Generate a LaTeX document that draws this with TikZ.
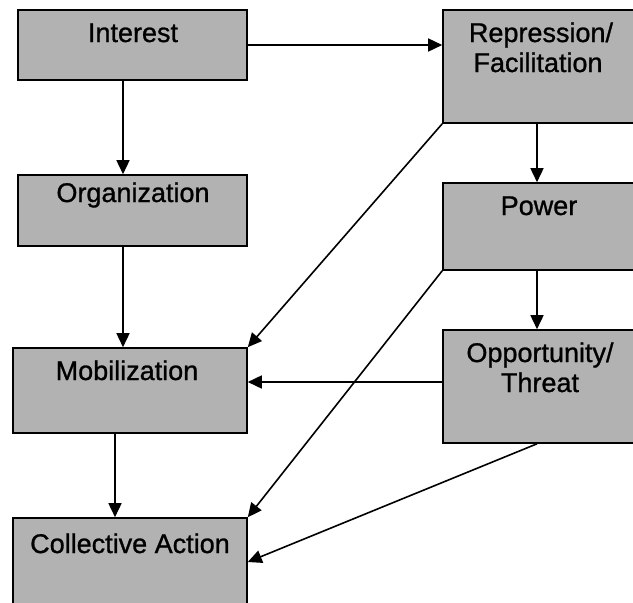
\documentclass[tikz,border=0pt]{standalone}
\usepackage{fontspec}
\setmainfont{Liberation Sans}
\newfontfamily\lblfont{Liberation Sans}[FakeBold=1]
\usetikzlibrary{arrows.meta}
\begin{document}
\begin{tikzpicture}[x=1pt,y=-1pt,
  box/.style={draw=black,line width=1.6pt,fill=black!30,rectangle,inner sep=0pt,outer sep=0.8pt},
  lbl/.style={anchor=base,inner sep=0pt,font=\lblfont\fontsize{27}{30}\selectfont},
  arr/.style={line width=1.6pt,-{Triangle[length=14pt,width=13pt]}}]
\useasboundingbox (0,0) rectangle (633,603);
% boxes
\node[box,minimum width=229pt,minimum height=70pt]  (int) at (132.5,45) {};
\node[box,minimum width=229pt,minimum height=71pt]  (org) at (132.5,210.5) {};
\node[box,minimum width=234pt,minimum height=85pt]  (mob) at (130,390.5) {};
\node[box,minimum width=234pt,minimum height=90pt]  (col) at (130,563) {};
\node[box,minimum width=197pt,minimum height=113pt] (rep) at (541.5,66.5) {};
\node[box,minimum width=197pt,minimum height=87pt]  (pow) at (541.5,226.5) {};
\node[box,minimum width=197pt,minimum height=113pt] (opp) at (541.5,386.5) {};
% labels
\node[lbl] (intT)  at (133,42)  {Interest};
\node[lbl] (orgT)  at (133,202) {Organization};
\node[lbl] (mobT)  at (127,380) {Mobilization};
\node[lbl] (colT)  at (130,553) {Collective Action};
\node[lbl] (repT1) at (541,42)  {Repression/};
\node[lbl] (repT2) at (538,72)  {Facilitation};
\node[lbl] (powT)  at (539,215) {Power};
\node[lbl] (oppT1) at (540,362) {Opportunity/};
\node[lbl] (oppT2) at (540,392) {Threat};
% helper coordinates
\coordinate (lx) at (123,0);
\coordinate (mx) at (115,0);
\coordinate (rx) at (537,0);
\coordinate (hy) at (0,382);
\coordinate (cy) at (0,562);
% connectors
\draw[arr] (int.south -| lx) -- (org.north -| lx);
\draw[arr] (org.south -| lx) -- (mob.north -| lx);
\draw[arr] (mob.south -| mx) -- (col.north -| mx);
\draw[arr] (int.east) -- (int.east -| rep.west);
\draw[arr] (rep.south -| rx) -- (pow.north -| rx);
\draw[arr] (pow.south -| rx) -- (opp.north -| rx);
\draw[arr] (rep.south west) -- (mob.north east);
\draw[arr] (pow.south west) -- (col.north east);
\draw[arr] (opp.west |- hy) -- (mob.east |- hy);
\draw[arr] (opp.south -| rx) -- (col.east |- cy);
\end{tikzpicture}
\end{document}
